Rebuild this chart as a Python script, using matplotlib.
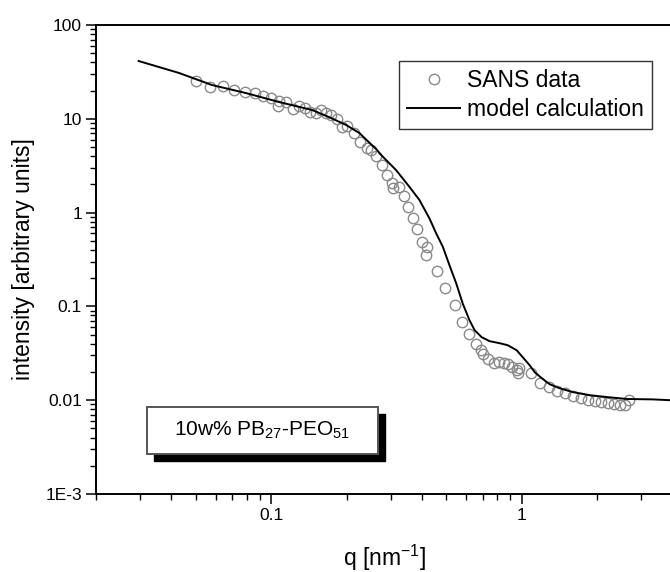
#!/usr/bin/env python3
import matplotlib
matplotlib.use('Agg')
import matplotlib.pyplot as plt
from matplotlib.patches import Rectangle
from matplotlib.ticker import LogLocator, FixedLocator, NullFormatter

plt.rcParams['font.family'] = ['Liberation Sans', 'DejaVu Sans']
plt.rcParams['mathtext.default'] = 'regular'

# SANS data (q in nm^-1, intensity in arbitrary units)
q_data = [0.0501, 0.0570, 0.0643, 0.0711, 0.0787, 0.0863, 0.0929, 0.100,
          0.1067, 0.1076, 0.1148, 0.1225, 0.1294, 0.1368, 0.1432, 0.1514,
          0.1585, 0.166, 0.1738, 0.1837, 0.1923, 0.2014, 0.2148, 0.2270,
          0.2421, 0.2512, 0.2630, 0.2780, 0.2911, 0.3048, 0.3076, 0.3251,
          0.3404, 0.3532, 0.3698, 0.3837, 0.4018, 0.4207, 0.4169, 0.4613,
          0.4966, 0.5395, 0.5754, 0.6138, 0.6546, 0.6855, 0.6982, 0.7311,
          0.7727, 0.8091, 0.8472, 0.8790, 0.912, 0.955, 0.973, 0.964,
          1.086, 1.180, 1.282, 1.380, 1.486, 1.600, 1.722, 1.837,
          1.959, 2.070, 2.208, 2.333, 2.466, 2.582, 2.679]
i_data = [25.3, 21.8, 22.4, 20.3, 19.3, 18.8, 17.5, 16.6,
          13.7, 15.5, 15.1, 12.7, 13.7, 13.0, 11.8, 11.5,
          12.4, 11.5, 11.0, 9.94, 8.17, 8.37, 7.05, 5.65,
          4.88, 4.64, 4.01, 3.21, 2.51, 2.06, 1.82, 1.87,
          1.50, 1.15, 0.874, 0.667, 0.485, 0.429, 0.352, 0.238,
          0.157, 0.103, 0.0679, 0.0506, 0.0395, 0.0341, 0.0310, 0.0274,
          0.0248, 0.0254, 0.0248, 0.0242, 0.0225, 0.0209, 0.0219, 0.0194,
          0.0194, 0.0152, 0.0138, 0.0125, 0.0119, 0.0110, 0.0105, 0.0100,
          0.00976, 0.00952, 0.00929, 0.00906, 0.00885, 0.00885, 0.0100]

# model calculation
q_model = [0.0296, 0.0429, 0.0581, 0.0794, 0.1076, 0.146, 0.1706, 0.1995,
           0.225, 0.265, 0.2704, 0.3153, 0.3565, 0.391, 0.4285, 0.456,
           0.4845, 0.515, 0.548, 0.582, 0.619, 0.649, 0.692, 0.745,
           0.817, 0.879, 0.955, 1.009, 1.076, 1.127, 1.202, 1.294,
           1.419, 1.600, 1.871, 2.188, 2.63, 3.34, 3.91]
i_model = [41.3, 30.8, 22.9, 18.8, 15.1, 12.4, 10.4, 8.58,
           7.05, 4.64, 4.30, 2.84, 1.88, 1.36, 0.867, 0.600,
           0.432, 0.275, 0.176, 0.107, 0.0713, 0.0558, 0.0470, 0.0426,
           0.0405, 0.0386, 0.0341, 0.0288, 0.0236, 0.0199, 0.0172, 0.0148,
           0.0134, 0.0122, 0.0113, 0.0108, 0.0103, 0.0102, 0.0100]

y_ticks = [1e-3, 1e-2, 1e-1, 1, 10, 100]
y_labels = ['1E-3', '0.01', '0.1', '1', '10', '100']
x_ticks = [0.1, 1]
x_labels = ['0.1', '1']


def main():
    fig = plt.figure(figsize=(6.7, 5.72), dpi=100)
    ax = fig.add_axes([96 / 670, 78 / 572, 576.5 / 670, 469 / 572])

    ax.plot(q_data, i_data, 'o', mfc='none', mec='#8a8a8a', mew=1.0,
            ms=7.5, label='SANS data', zorder=2)
    ax.plot(q_model, i_model, '-', color='black', lw=1.4,
            label='model calculation', zorder=3)

    ax.set_xscale('log')
    ax.set_yscale('log')
    ax.set_xlim(0.02, 4)
    ax.set_ylim(1e-3, 100)

    ax.xaxis.set_major_locator(FixedLocator(x_ticks))
    ax.set_xticklabels(x_labels)
    ax.xaxis.set_minor_locator(LogLocator(base=10, subs=range(2, 10)))
    ax.xaxis.set_minor_formatter(NullFormatter())
    ax.yaxis.set_major_locator(FixedLocator(y_ticks))
    ax.set_yticklabels(y_labels)
    ax.yaxis.set_minor_locator(LogLocator(base=10, subs=range(2, 10)))
    ax.yaxis.set_minor_formatter(NullFormatter())

    ax.tick_params(which='major', direction='out', length=7, width=1.1,
                   labelsize=12.5, pad=3)
    ax.tick_params(which='minor', direction='out', length=4, width=1.0)
    ax.tick_params(top=False, right=False)
    for s in ax.spines.values():
        s.set_linewidth(1.4)
    ax.spines['right'].set_visible(False)

    ax.set_xlabel('q [nm$^{-1}$]', fontsize=16.5, labelpad=14)
    ax.set_ylabel('intensity [arbitrary units]', fontsize=16.5, labelpad=7.5)

    leg = ax.legend(loc='upper right', bbox_to_anchor=(0.9644, 0.9232),
                    borderaxespad=0, fontsize=16.5, frameon=True,
                    fancybox=False, handlelength=2.3, handletextpad=0.3,
                    borderpad=0.35, labelspacing=0.25, numpoints=1)
    leg.get_frame().set_edgecolor('black')
    leg.get_frame().set_linewidth(1.0)

    # sample label with drop shadow
    x0, y0, w, h = 0.0885, 0.0853, 0.4005, 0.1002
    dx, dy = 7 / 576.5, 7 / 469
    ax.add_patch(Rectangle((x0 + dx, y0 - dy), w, h, transform=ax.transAxes,
                           facecolor='black', edgecolor='black', zorder=4))
    ax.add_patch(Rectangle((x0, y0), w, h, transform=ax.transAxes,
                           facecolor='white', edgecolor='#555555', lw=1.4,
                           zorder=5))
    ax.text(x0 + w / 2, y0 + h / 2, '10w% PB$_{27}$-PEO$_{51}$',
            transform=ax.transAxes, ha='center', va='center', fontsize=15,
            zorder=6)

    fig.savefig('out.png', dpi=100)


if __name__ == '__main__':
    main()
